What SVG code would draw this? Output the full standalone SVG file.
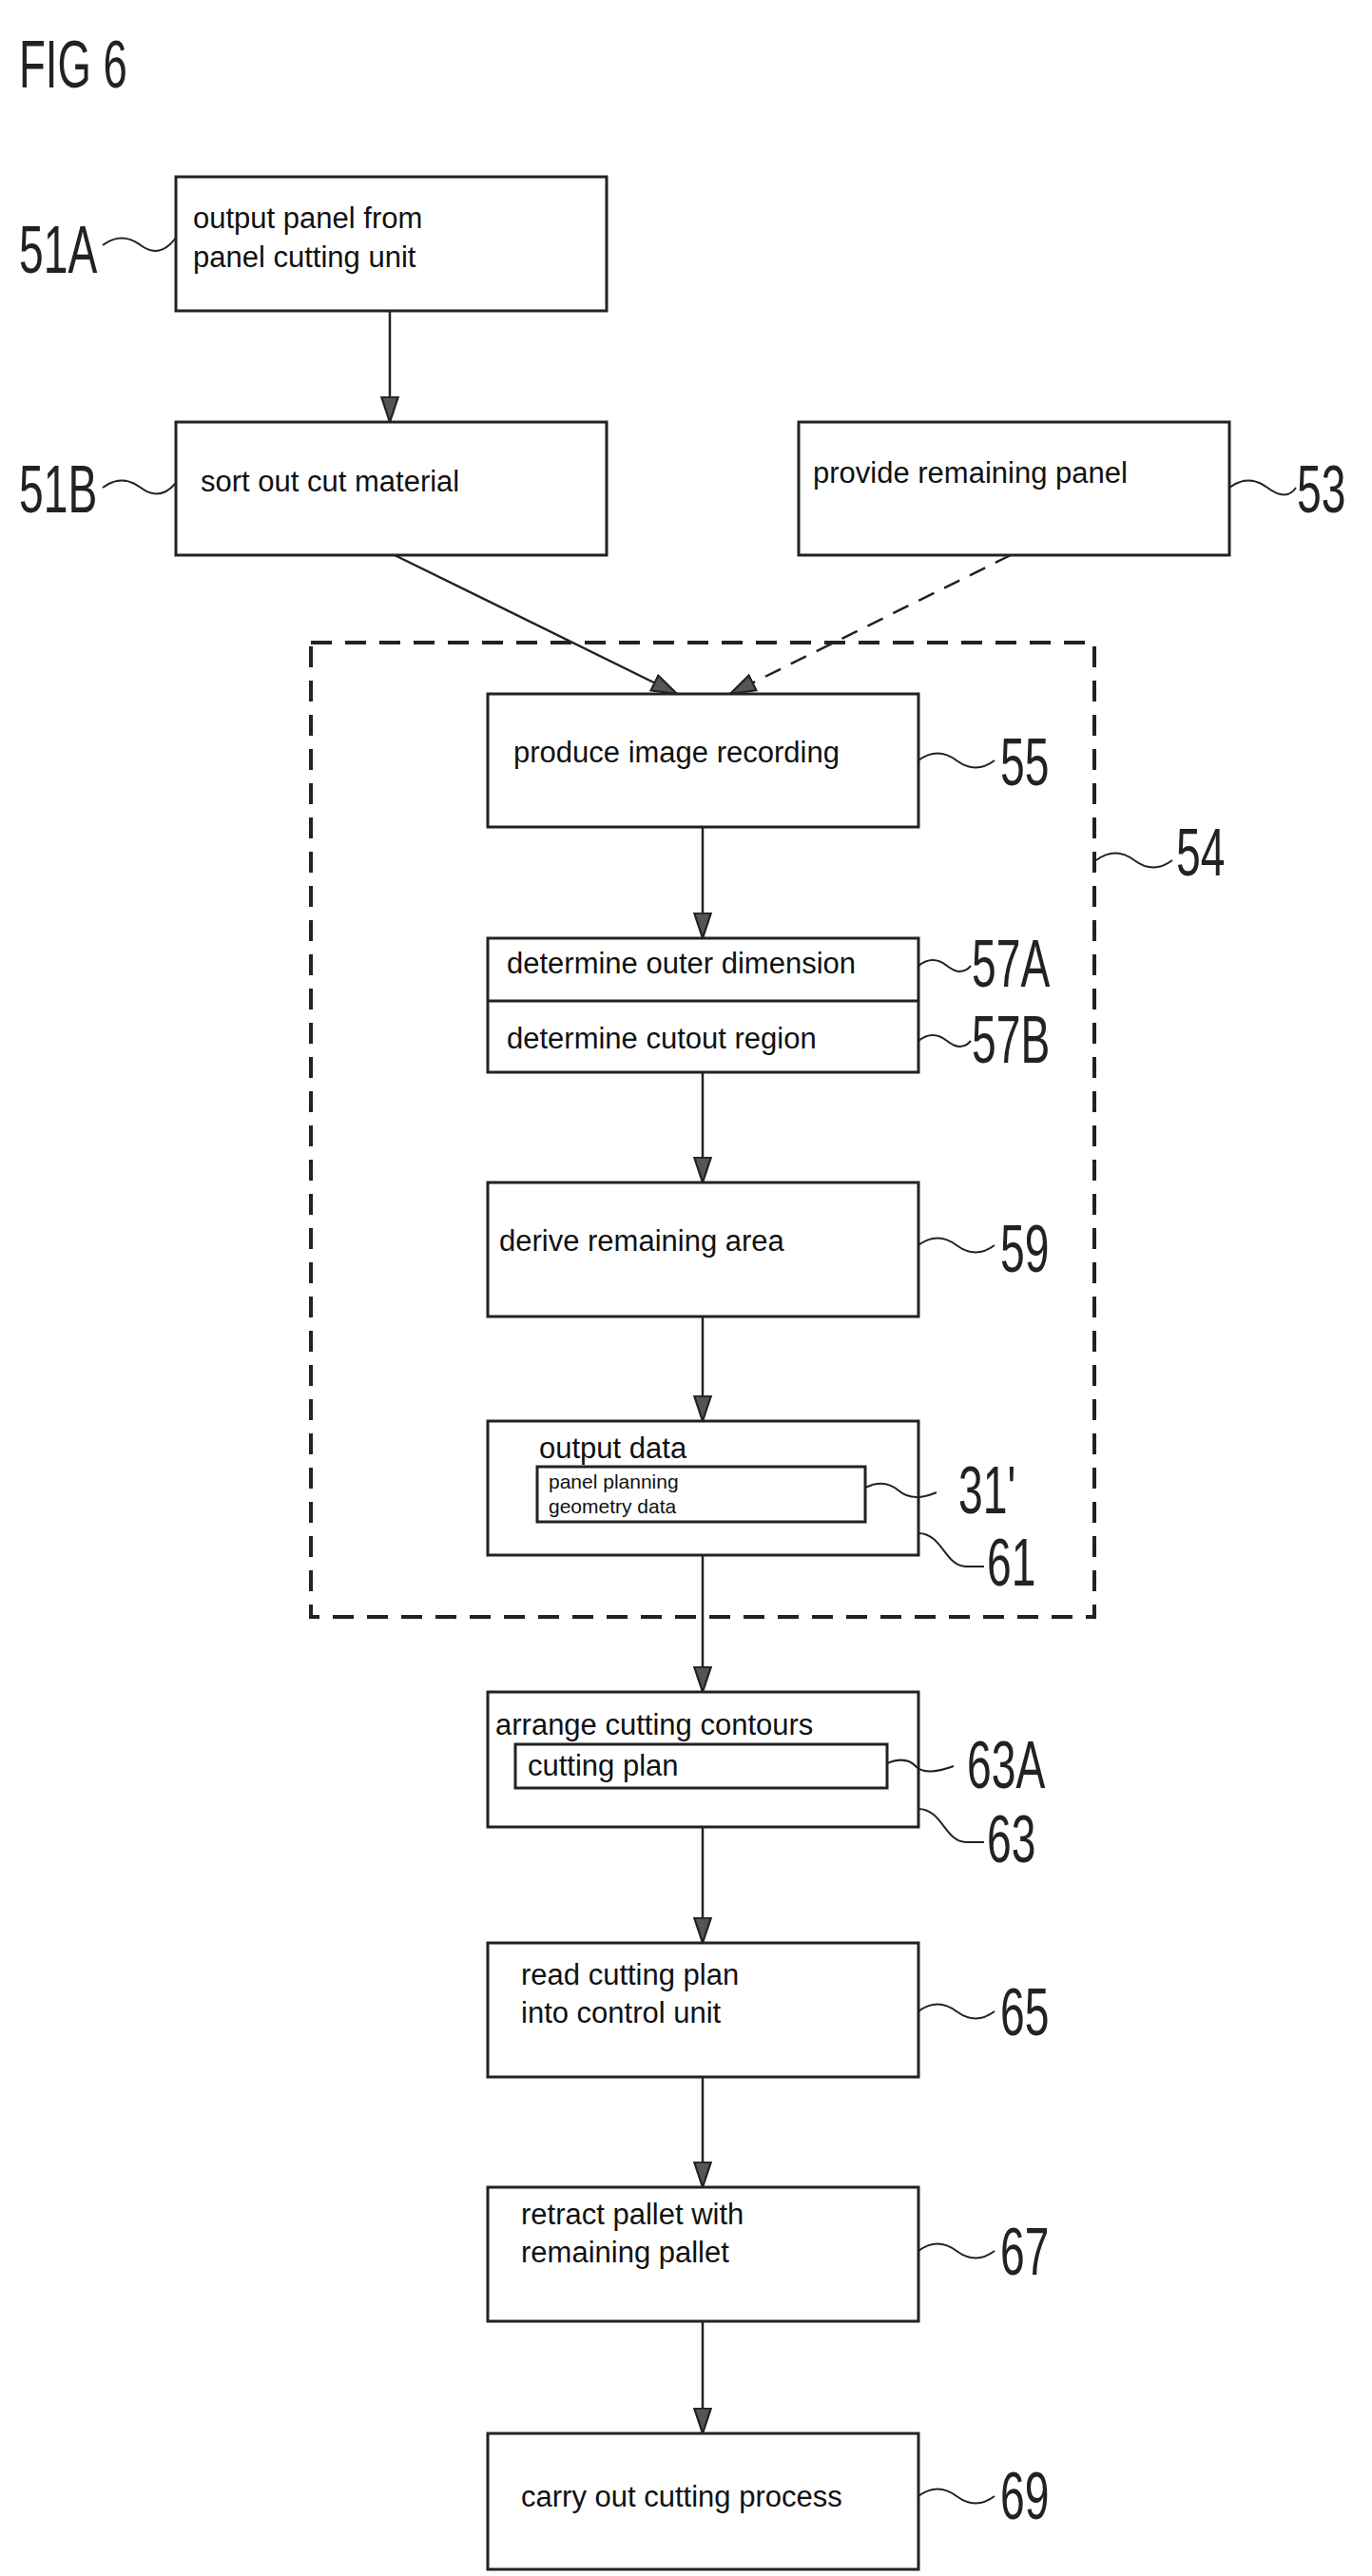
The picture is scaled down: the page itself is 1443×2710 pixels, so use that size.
<svg xmlns="http://www.w3.org/2000/svg" width="1443" height="2710" viewBox="0 0 1443 2710">
<style>
.b{fill:#fff;stroke:#222;stroke-width:3}
.t{font-family:"Liberation Sans",sans-serif;font-size:31px;fill:#111}
.s{font-family:"Liberation Sans",sans-serif;font-size:21px;fill:#111}
.n{font-family:"Liberation Sans",sans-serif;font-size:70px;fill:#222}
.c{fill:none;stroke:#222;stroke-width:2.5}
.w{fill:none;stroke:#222;stroke-width:2}
</style>
<defs><marker id="ah" viewBox="0 0 12 10" refX="12" refY="5" markerWidth="28" markerHeight="22" markerUnits="userSpaceOnUse" orient="auto"><path d="M0,1 L12,5 L0,9z" fill="#555" stroke="#222"/></marker></defs>
<text class="n" transform="translate(20,92) scale(.65,1)" font-size="96">FIG 6</text>
<rect x="327" y="676" width="824" height="1025" fill="none" stroke="#222" stroke-width="4" stroke-dasharray="22,14"/>
<text class="n" transform="translate(1237,921) scale(.66,1)">54</text><path class="w" d="M1153,905 q20,-15 40,0 t40,0"/>
<g id="connectors">
<path class="c" d="M410,327 V444" marker-end="url(#ah)"/>
<path class="c" d="M415,584 L712,730" marker-end="url(#ah)"/>
<path class="c" d="M1063,584 L768,730" stroke-dasharray="18,12" marker-end="url(#ah)"/>
<path class="c" d="M739,870 V987" marker-end="url(#ah)"/>
<path class="c" d="M739,1128 V1244" marker-end="url(#ah)"/>
<path class="c" d="M739,1385 V1495" marker-end="url(#ah)"/>
<path class="c" d="M739,1636 V1780" marker-end="url(#ah)"/>
<path class="c" d="M739,1922 V2044" marker-end="url(#ah)"/>
<path class="c" d="M739,2185 V2301" marker-end="url(#ah)"/>
<path class="c" d="M739,2442 V2560" marker-end="url(#ah)"/>
</g>
<g id="n51A"><rect class="b" x="185" y="186" width="453" height="141"/><text class="t" x="203" y="240">output panel from</text><text class="t" x="203" y="281">panel cutting unit</text><text class="n" transform="translate(20,287) scale(.66,1)">51A</text><path class="w" d="M108,258 q20,-15 40,0 t37,-8"/></g>
<g id="n51B"><rect class="b" x="185" y="444" width="453" height="140"/><text class="t" x="211" y="517">sort out cut material</text><text class="n" transform="translate(20,539) scale(.66,1)">51B</text><path class="w" d="M108,513 q20,-15 40,0 t37,-5"/></g>
<g id="n53"><rect class="b" x="840" y="444" width="453" height="140"/><text class="t" x="855" y="508">provide remaining panel</text><text class="n" transform="translate(1364,539) scale(.66,1)">53</text><path class="w" d="M1293,513 q20,-15 40,0 t30,0"/></g>
<g id="n55"><rect class="b" x="513" y="730" width="453" height="140"/><text class="t" x="540" y="802">produce image recording</text><text class="n" transform="translate(1052,826) scale(.66,1)">55</text><path class="w" d="M966,800 q20,-15 40,0 t40,0"/></g>
<g id="n57"><rect class="b" x="513" y="987" width="453" height="141"/><path class="b" d="M513,1053 H966"/><text class="t" x="533" y="1024">determine outer dimension</text><text class="t" x="533" y="1103">determine cutout region</text><text class="n" transform="translate(1022,1038) scale(.66,1)">57A</text><path class="w" d="M966,1016 q15,-12 30,0 t25,0"/><text class="n" transform="translate(1022,1118) scale(.66,1)">57B</text><path class="w" d="M966,1095 q15,-12 30,0 t25,0"/></g>
<g id="n59"><rect class="b" x="513" y="1244" width="453" height="141"/><text class="t" x="525" y="1316">derive remaining area</text><text class="n" transform="translate(1052,1338) scale(.66,1)">59</text><path class="w" d="M966,1310 q20,-15 40,0 t40,0"/></g>
<g id="n61"><rect class="b" x="513" y="1495" width="453" height="141"/><text class="t" x="567" y="1534">output data</text><rect class="b" x="565" y="1543" width="345" height="58"/><text class="s" x="577" y="1566">panel planning</text><text class="s" x="577" y="1592">geometry data</text><text class="n" transform="translate(1008,1592) scale(.66,1)">31'</text><path class="w" d="M910,1565 q20,-10 35,3 t40,2"/><text class="n" transform="translate(1038,1668) scale(.66,1)">61</text><path class="w" d="M966,1613 c25,0 28,35 50,35 H1035"/></g>
<g id="n63"><rect class="b" x="513" y="1780" width="453" height="142"/><text class="t" x="521" y="1825">arrange cutting contours</text><rect class="b" x="542" y="1835" width="391" height="46"/><text class="t" x="555" y="1868">cutting plan</text><text class="n" transform="translate(1017,1881) scale(.66,1)">63A</text><path class="w" d="M933,1855 q20,-8 30,3 t40,0"/><text class="n" transform="translate(1038,1959) scale(.66,1)">63</text><path class="w" d="M966,1903 c25,0 28,35 50,35 H1035"/></g>
<g id="n65"><rect class="b" x="513" y="2044" width="453" height="141"/><text class="t" x="548" y="2088">read cutting plan</text><text class="t" x="548" y="2128">into control unit</text><text class="n" transform="translate(1052,2141) scale(.66,1)">65</text><path class="w" d="M966,2116 q20,-15 40,0 t40,0"/></g>
<g id="n67"><rect class="b" x="513" y="2301" width="453" height="141"/><text class="t" x="548" y="2340">retract pallet with</text><text class="t" x="548" y="2380">remaining pallet</text><text class="n" transform="translate(1052,2393) scale(.66,1)">67</text><path class="w" d="M966,2368 q20,-15 40,0 t40,0"/></g>
<g id="n69"><rect class="b" x="513" y="2560" width="453" height="143"/><text class="t" x="548" y="2637">carry out cutting process</text><text class="n" transform="translate(1052,2650) scale(.66,1)">69</text><path class="w" d="M966,2626 q20,-15 40,0 t40,0"/></g>
</svg>
